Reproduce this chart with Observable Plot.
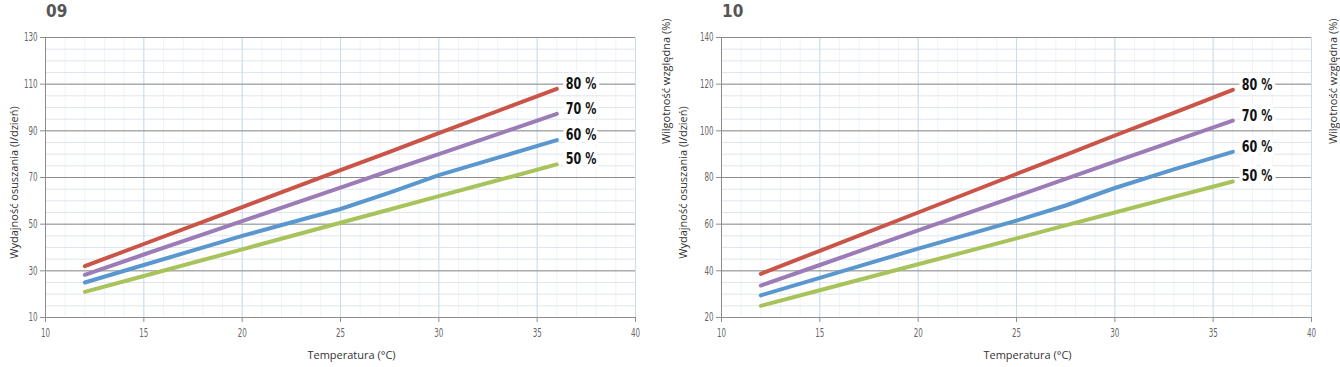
<!DOCTYPE html>
<html><head><meta charset="utf-8">
<script src="https://cdn.jsdelivr.net/npm/d3@7"></script>
<script src="https://cdn.jsdelivr.net/npm/@observablehq/plot@0.6"></script>
<style>
body{margin:0;background:#fff;}
#wrap{position:relative;width:1340px;height:367px;overflow:hidden;}
.chart{position:absolute;top:0;}
.title{position:absolute;top:2px;line-height:1;font-family:"DejaVu Sans";font-weight:bold;font-size:18px;color:#555;transform:scaleX(0.85);transform-origin:left top;}
</style>
</head><body>
<div id="wrap"></div>
<script>
// ---- data ----
const temps = [12, 15, 20, 25, 27.5, 30, 33, 36];
const seriesNames = ["80 %", "70 %", "60 %", "50 %"];
const seriesColors = ["#cb5448", "#9b7cb6", "#5b97cf", "#a8c35a"];

const chart09Title = "09";
const chart09_80 = [32, 41.5, 57.3, 73.2, 81, 89, 98.5, 108];
const chart09_70 = [28.3, 37, 51.3, 65.7, 72.9, 80, 88.6, 97.3];
const chart09_60 = [25, 32.5, 45, 56.5, 63.5, 71, 78.5, 86];
const chart09_50 = [21, 27.8, 39.2, 50.6, 56.3, 62, 68.8, 75.6];
const chart09YTicks = [10, 30, 50, 70, 90, 110, 130];

const chart10Title = "10";
const chart10_80 = [38.7, 48.6, 65, 81.5, 89.7, 98, 107.7, 117.6];
const chart10_70 = [33.7, 42.5, 57.3, 72, 79.4, 86.8, 95.6, 104.4];
const chart10_60 = [29.5, 37, 49.5, 61.5, 68, 75.5, 83.5, 91];
const chart10_50 = [25, 31.7, 42.8, 53.9, 59.5, 65, 71.7, 78.3];
const chart10YTicks = [20, 40, 60, 80, 100, 120, 140];

const xTicks = [10, 15, 20, 25, 30, 35, 40];
const xLabel = "Temperatura (°C)";
const yLabel = "Wydajność osuszania (l/dzień)";
const rightLabel = "Wilgotność względna (%)";

// ---- build ----
function tidy(seriesVals) {
  const rows = [];
  seriesVals.forEach((vals, i) => vals.forEach((v, j) => rows.push({s: seriesNames[i], x: temps[j], y: v})));
  return rows;
}

const FONT = '"DejaVu Sans",sans-serif';
const LFONT = '"Open Sans",sans-serif';

function makeChart(seriesVals, yTicks, ml, mr, yLabelDx, rightDx) {
  const data = tidy(seriesVals);
  const y0 = yTicks[0], y1 = yTicks[yTicks.length - 1];
  const ends = data.filter(d => d.x === temps[temps.length - 1]);
  return Plot.plot({
    width: 670, height: 367,
    marginTop: 37, marginBottom: 50, marginLeft: ml, marginRight: mr,
    style: {fontFamily: FONT, fontSize: "11.5px", color: "#666", background: "transparent", overflow: "visible"},
    x: {domain: [10, 40]},
    y: {domain: [y0, y1]},
    color: {domain: seriesNames, range: seriesColors},
    marks: [
      Plot.gridX(d3.range(10, 41, 1), {stroke: "#f1f3f5", strokeOpacity: 1}),
      Plot.gridY(d3.range(y0, y1 + 1, 5), {stroke: "#dfe6ec", strokeOpacity: 1}),
      Plot.gridX(xTicks.slice(1), {stroke: "#c4ddef", strokeOpacity: 1}),
      Plot.gridY(yTicks.slice(1), {stroke: "#8c8c8c", strokeOpacity: 1}),
      Plot.ruleX([10], {stroke: "#8c8c8c"}),
      Plot.ruleY([y0], {stroke: "#8c8c8c"}),
      Plot.axisX({ticks: xTicks, tickSize: 5, tickPadding: 6, label: null, stroke: "#8c8c8c", fill: "#666", className: "tk"}),
      Plot.axisY({ticks: yTicks, tickSize: 5, tickPadding: 3, label: null, stroke: "#8c8c8c", fill: "#666", className: "tk"}),
      Plot.line(data, {x: "x", y: "y", z: "s", stroke: "s", strokeWidth: 4, curve: "linear"}),
      Plot.text(ends, {x: "x", y: "y", text: "s", dx: 9, dy: -5, textAnchor: "start", className: "leg",
        fontSize: 15.5, fontWeight: "bold", fill: "#111", stroke: "white", strokeWidth: 9, paintOrder: "stroke"}),
      Plot.text([yLabel], {frameAnchor: "left", rotate: -90, dx: yLabelDx, dy: 5, fontSize: 11, fill: "#333", fontFamily: LFONT, textAnchor: "middle"}),
      Plot.text([xLabel], {frameAnchor: "bottom", dx: 11, dy: 41, fontSize: 11, fill: "#333", fontFamily: LFONT}),
      Plot.text([rightLabel], {frameAnchor: "top-right", rotate: -90, dx: rightDx, dy: -19, textAnchor: "end", fontSize: 11, fill: "#333", fontFamily: LFONT})
    ]
  });
}

function condense(svg, cls, k) {
  svg.querySelectorAll("." + cls + " text").forEach(t => {
    const tr = t.getAttribute("transform") || "";
    t.setAttribute("transform", tr + " scale(" + k + ",1)");
  });
}

const wrap = document.getElementById("wrap");
const c1 = makeChart([chart09_80, chart09_70, chart09_60, chart09_50], chart09YTicks, 45, 35, -31, 27);
c1.classList.add("chart"); c1.style.left = "0px";
const c2 = makeChart([chart10_80, chart10_70, chart10_60, chart10_50], chart10YTicks, 51, 29, -38, 18);
c2.classList.add("chart"); c2.style.left = "670px";
[c1, c2].forEach(c => { condense(c, "tk", 0.62); condense(c, "leg", 0.72); });
wrap.appendChild(c1); wrap.appendChild(c2);
const t1 = document.createElement("div"); t1.className = "title"; t1.textContent = chart09Title; t1.style.left = "46px";
const t2 = document.createElement("div"); t2.className = "title"; t2.textContent = chart10Title; t2.style.left = "722px";
wrap.appendChild(t1); wrap.appendChild(t2);
</script>
</body></html>
